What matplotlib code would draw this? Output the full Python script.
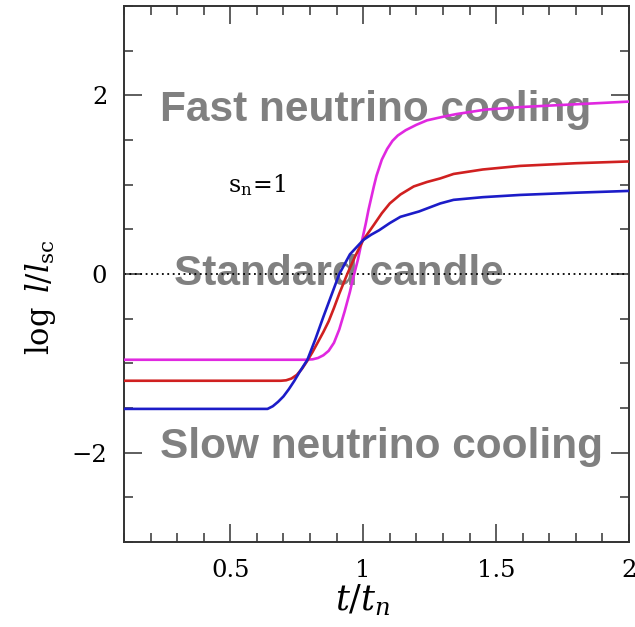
import matplotlib
matplotlib.use("Agg")
import matplotlib.pyplot as plt
from matplotlib.ticker import MultipleLocator

# Light-curve tracks, log l / l_sc versus t / t_n
t_fast = [0.10, 0.78, 0.81, 0.83, 0.85, 0.87, 0.89, 0.91, 0.93, 0.95, 0.96, 0.98,
          0.99, 1.01, 1.02, 1.04, 1.05, 1.07, 1.09, 1.11, 1.13, 1.16, 1.20, 1.24,
          1.30, 1.35, 1.46, 1.60, 1.80, 2.00]
l_fast = [-0.96, -0.96, -0.955, -0.94, -0.91, -0.86, -0.77, -0.62, -0.42, -0.20,
          -0.07, 0.16, 0.30, 0.57, 0.72, 0.98, 1.10, 1.28, 1.40, 1.49, 1.55, 1.61,
          1.67, 1.72, 1.76, 1.79, 1.84, 1.87, 1.90, 1.93]

t_mid = [0.10, 0.69, 0.71, 0.73, 0.75, 0.77, 0.79, 0.81, 0.83, 0.85, 0.87, 0.89,
         0.91, 0.94, 0.97, 1.00, 1.04, 1.07, 1.10, 1.14, 1.19, 1.24, 1.29, 1.34,
         1.45, 1.59, 1.80, 2.00]
l_mid = [-1.195, -1.195, -1.19, -1.17, -1.13, -1.06, -0.97, -0.87, -0.76, -0.65,
         -0.53, -0.38, -0.22, 0.0, 0.20, 0.38, 0.55, 0.68, 0.79, 0.89, 0.98, 1.03,
         1.07, 1.12, 1.17, 1.21, 1.24, 1.26]

t_slow = [0.10, 0.64, 0.66, 0.68, 0.70, 0.72, 0.74, 0.76, 0.79, 0.82, 0.85, 0.88,
          0.91, 0.95, 1.00, 1.03, 1.06, 1.10, 1.14, 1.21, 1.29, 1.34, 1.45, 1.59,
          1.80, 2.00]
l_slow = [-1.51, -1.51, -1.48, -1.43, -1.37, -1.29, -1.20, -1.10, -0.96, -0.73,
          -0.48, -0.24, 0.0, 0.22, 0.38, 0.44, 0.49, 0.57, 0.64, 0.70, 0.79, 0.83,
          0.86, 0.885, 0.91, 0.93]

x_ticks = [0.5, 1.0, 1.5, 2.0]
x_tick_labels = ["0.5", "1", "1.5", "2"]
y_ticks = [-2, 0, 2]
y_tick_labels = ["\u22122", "0", "2"]

plt.rcParams["mathtext.fontset"] = "dejavuserif"

fig = plt.figure(figsize=(6.35, 6.27), dpi=100)
ax = fig.add_axes([124 / 635, 1 - 542 / 627, 505 / 635, 536 / 627])

ax.set_xlim(0.1, 2.0)
ax.set_ylim(-3, 3)

ax.axhline(0, color="black", lw=1.3, ls=(0, (1, 2)), zorder=2)

ax.plot(t_fast, l_fast, color="#e028e0", lw=1.9, zorder=3, solid_capstyle="butt")
ax.plot(t_mid, l_mid, color="#d02020", lw=1.9, zorder=3, solid_capstyle="butt")
ax.plot(t_slow, l_slow, color="#1c1cc8", lw=1.9, zorder=3, solid_capstyle="butt")

for s in ax.spines.values():
    s.set_linewidth(1.4)
    s.set_color("#333333")

ax.set_xticks(x_ticks)
ax.set_xticklabels(x_tick_labels)
ax.set_yticks(y_ticks)
ax.set_yticklabels(y_tick_labels)
ax.xaxis.set_minor_locator(MultipleLocator(0.1))
ax.yaxis.set_minor_locator(MultipleLocator(0.5))
ax.tick_params(which="both", direction="in", top=True, right=True,
               color="#333333", width=1.1)
ax.tick_params(which="major", length=13, labelsize=17.5, pad=12)
ax.tick_params(which="minor", length=6.5)
for lab in ax.get_xticklabels() + ax.get_yticklabels():
    lab.set_family("DejaVu Serif")

ax.set_xlabel(r"$t/t_n$", fontsize=25)
ax.xaxis.set_label_coords((363 - 124) / 505, (542 - 582) / 536)
ax.xaxis.label.set_va("top")
ax.set_ylabel(r"$\log\ l/l_{\mathrm{sc}}$", fontsize=22)
ax.yaxis.set_label_coords((40 - 124) / 505, (542 - 297) / 536)
ax.yaxis.label.set_va("center")

ax.text(0.49, 1.0, r"$\mathrm{s_n}\!=\!1$", fontsize=17, va="center", ha="left",
        zorder=4)

gray = dict(color="#808080", fontsize=30.5, fontweight="bold",
            family="Liberation Sans", va="center", ha="left", zorder=1)
ax.text(0.235, 1.84, "Fast neutrino cooling", **gray)
ax.text(0.29, 0.0, "Standard candle", **gray)
ax.text(0.235, -1.94, "Slow neutrino cooling", **gray)

fig.savefig("out.png", dpi=100)
